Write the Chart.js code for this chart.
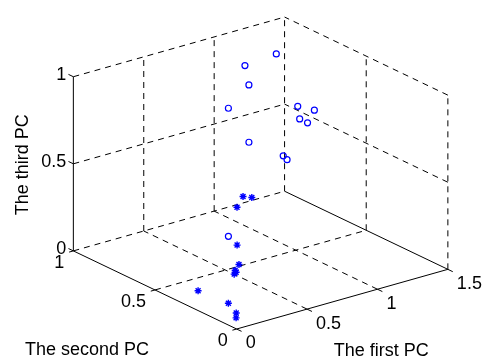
<!DOCTYPE html>
<html>
<head>
<meta charset="utf-8">
<script src="https://cdn.jsdelivr.net/npm/chart.js@4/dist/chart.umd.min.js"></script>
<style>
  html, body { margin: 0; padding: 0; background: #ffffff; }
  #wrap { width: 487px; height: 364px; position: relative; }
</style>
</head>
<body>
<div id="wrap"><canvas id="c" width="487" height="364"></canvas></div>
<script>
// ---------- data ----------
// class "o": first, second and third principal components
const circlePC1 = [1.200, 1.033, 0.951, 0.723, 1.132, 1.170, 1.104, 1.103, 0.660, 0.849, 0.830, 0.178];
const circlePC2 = [0.792, 0.840, 0.745, 0.674, 0.602, 0.533, 0.566, 0.517, 0.494, 0.447, 0.407, 0.204];
const circlePC3 = [0.95, 0.90, 0.85, 0.80, 0.75, 0.75, 0.70, 0.70, 0.70, 0.60, 0.60, 0.40];
// class "*"
const starPC1 = [0.777, 0.807, 0.732, 0.460, 0.369, 0.298, 0.306, 0.365, 0.023, 0.122, 0.099, 0.069];
const starPC2 = [0.631, 0.603, 0.629, 0.394, 0.304, 0.266, 0.279, 0.318, 0.256, 0.156, 0.088, 0.063];
const starPC3 = [0.30, 0.30, 0.25, 0.20, 0.15, 0.15, 0.12, 0.10, 0.10, 0.05, 0.03, 0.02];

const xTicks = [0, 0.5, 1, 1.5];
const yTicks = [0, 0.5, 1];
const zTicks = [0, 0.5, 1];
const xTickLabels = ['0', '0.5', '1', '1.5'];
const yTickLabels = ['0', '0.5', '1'];
const zTickLabels = ['0', '0.5', '1'];
const xTitle = 'The first PC';
const yTitle = 'The second PC';
const zTitle = 'The third PC';

// ---------- 3D view (orthographic, MATLAB-like default view) ----------
const VIEW = {
  o:  [236.5, 333.5],
  ex: [144, -41],
  ey: [-167, -80.5],
  ez: [0, -179.5]
};
function proj(x, y, z) {
  return {
    x: VIEW.o[0] + VIEW.ex[0] * x + VIEW.ey[0] * y + VIEW.ez[0] * z,
    y: VIEW.o[1] + VIEW.ex[1] * x + VIEW.ey[1] * y + VIEW.ez[1] * z
  };
}
const xMin = xTicks[0], xMax = xTicks[xTicks.length - 1];
const yMin = yTicks[0], yMax = yTicks[yTicks.length - 1];
const zMin = zTicks[0], zMax = zTicks[zTicks.length - 1];

const datasets = [];
function seg(a, b, dashed) {
  datasets.push({
    type: 'scatter',
    data: [proj(a[0], a[1], a[2]), proj(b[0], b[1], b[2])],
    showLine: true,
    borderColor: '#000000',
    borderWidth: 1,
    borderDash: dashed ? [6, 5] : [],
    pointRadius: 0,
    fill: false,
    tension: 0,
    order: 5
  });
}

// back wall at y = yMax (grid)
xTicks.filter(v => v > xMin).forEach(v => seg([v, yMax, zMin], [v, yMax, zMax], true));
zTicks.forEach(v => seg([xMin, yMax, v], [xMax, yMax, v], true));
// back wall at x = xMax (grid)
yTicks.filter(v => v < yMax).forEach(v => seg([xMax, v, zMin], [xMax, v, zMax], true));
zTicks.filter(v => v > zMin).forEach(v => seg([xMax, yMin, v], [xMax, yMax, v], true));
// floor z = zMin (grid)
xTicks.filter(v => v > xMin && v < xMax).forEach(v => seg([v, yMin, zMin], [v, yMax, zMin], true));
yTicks.filter(v => v > yMin && v < yMax).forEach(v => seg([xMin, v, zMin], [xMax, v, zMin], true));
// axes (solid)
seg([xMin, yMin, zMin], [xMax, yMin, zMin], false);
seg([xMin, yMin, zMin], [xMin, yMax, zMin], false);
seg([xMin, yMax, zMin], [xMin, yMax, zMax], false);
seg([xMax, yMin, zMin], [xMax, yMax, zMin], false);
// tick marks
const tk = 0.03;
xTicks.forEach(v => seg([v, yMin, zMin], [v, yMin - tk, zMin], false));
yTicks.forEach(v => seg([xMin, v, zMin], [xMin - tk, v, zMin], false));
zTicks.forEach(v => seg([xMin, yMax, v], [xMin, yMax + tk, v], false));

// markers
datasets.push({
  type: 'scatter',
  data: circlePC1.map((v, i) => proj(v, circlePC2[i], circlePC3[i])),
  pointStyle: 'circle',
  pointRadius: 3,
  borderWidth: 1.2,
  borderColor: '#0000ff',
  backgroundColor: 'rgba(0,0,0,0)',
  showLine: false,
  order: 0
});
datasets.push({
  type: 'scatter',
  data: starPC1.map((v, i) => proj(v, starPC2[i], starPC3[i])),
  pointStyle: 'star',
  pointRadius: 3.5,
  borderWidth: 1.4,
  borderColor: '#0000ff',
  backgroundColor: '#0000ff',
  showLine: false,
  order: 0
});

const FONT = '18px "Liberation Sans", Arial, Helvetica, sans-serif';
const textPlugin = {
  id: 'labels3d',
  afterDatasetsDraw(chart) {
    const ctx = chart.ctx;
    const sx = chart.scales.x, sy = chart.scales.y;
    const P = (x, y, z) => { const p = proj(x, y, z); return [sx.getPixelForValue(p.x), sy.getPixelForValue(p.y)]; };
    ctx.save();
    ctx.fillStyle = '#000000';
    ctx.font = FONT;
    ctx.textBaseline = 'middle';
    // z tick labels
    ctx.textAlign = 'right';
    zTicks.forEach((v, i) => { const p = P(xMin, yMax, v); ctx.fillText(zTickLabels[i], p[0] - 7, p[1] - 2); });
    // y tick labels
    yTicks.forEach((v, i) => { const p = P(xMin, v, zMin); ctx.fillText(yTickLabels[i], p[0] - 9, p[1] + 12); });
    // x tick labels
    ctx.textAlign = 'left';
    xTicks.forEach((v, i) => { const p = P(v, yMin, zMin); ctx.fillText(xTickLabels[i], p[0] + 9, p[1] + 14.5); });
    // titles
    ctx.textAlign = 'center';
    let p = P((xMin + xMax) / 2, yMin, zMin);
    ctx.fillText(xTitle, p[0] + 39, p[1] + 52);
    p = P(xMin, (yMin + yMax) / 2, zMin);
    ctx.fillText(yTitle, p[0] - 68, p[1] + 60);
    p = P(xMin, yMax, (zMin + zMax) / 2);
    ctx.translate(p[0] - 50, p[1] + 1);
    ctx.rotate(-Math.PI / 2);
    ctx.fillText(zTitle, 0, 0);
    ctx.restore();
  }
};

new Chart(document.getElementById('c'), {
  type: 'scatter',
  data: { datasets },
  options: {
    responsive: false,
    animation: false,
    layout: { padding: 0 },
    plugins: { legend: { display: false }, tooltip: { enabled: false } },
    scales: {
      x: { type: 'linear', display: false, min: 0, max: 487 },
      y: { type: 'linear', display: false, min: 0, max: 364, reverse: true }
    }
  },
  plugins: [textPlugin]
});
</script>
</body>
</html>
